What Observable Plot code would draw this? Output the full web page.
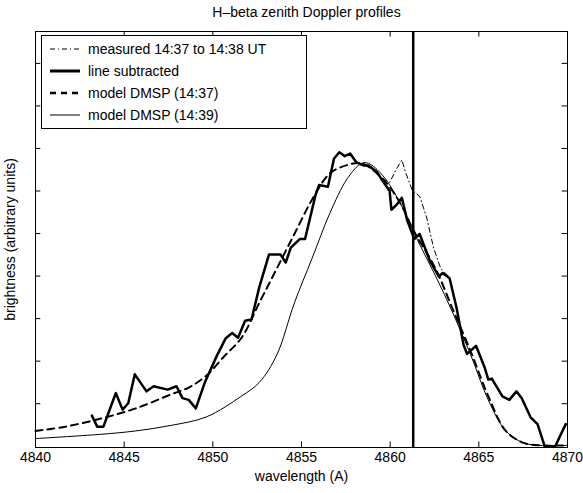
<!DOCTYPE html>
<html><head><meta charset="utf-8">
<script src="https://cdn.jsdelivr.net/npm/d3@7"></script>
<script src="https://cdn.jsdelivr.net/npm/@observablehq/plot@0.6"></script>
<style>
body{margin:0;background:#fff;font-family:"Liberation Sans",Arial,sans-serif;}
#wrap{position:relative;width:583px;height:493px;}
#title{height:22px;line-height:24px;text-align:center;font-size:14px;padding-left:30px;}
#legend{position:absolute;left:41px;top:35px;width:266px;height:94px;border:1px solid #000;background:#fff;font-size:14px;box-sizing:border-box;padding-top:2px;}
#legend div{height:22px;display:flex;align-items:center;}
#legend svg{margin:0 8px 0 8px;}
</style></head><body>
<div id="wrap"><div id="title">H–beta zenith Doppler profiles</div><div id="chart"></div>
<div id="legend"></div></div>
<script>
const subX=[4843.18,4843.48,4843.83,4844.53,4844.91,4845.23,4845.60,4846.26,4846.66,4847.45,4847.95,4848.29,4848.64,4849.04,4849.54,4850.23,4850.73,4851.09,4851.42,4851.82,4852.18,4852.62,4853.17,4853.81,4854.11,4854.40,4854.90,4855.20,4855.80,4855.99,4856.49,4856.83,4857.13,4857.44,4857.74,4858.08,4858.48,4858.78,4859.27,4859.57,4859.97,4860.07,4860.37,4860.66,4860.96,4861.36,4861.66,4862.25,4862.75,4862.95,4863.35,4863.74,4864.14,4864.34,4864.84,4865.33,4865.53,4865.73,4866.33,4866.72,4867.12,4867.42,4867.92,4868.31,4868.71,4869.31,4869.90];
const subY=[0.72,0.46,0.46,1.25,0.86,1.01,1.69,1.29,1.41,1.33,1.41,1.13,1.09,0.89,1.49,2.13,2.54,2.66,2.55,2.95,2.98,3.74,4.51,4.51,4.32,4.67,4.87,4.87,5.92,6.14,6.10,6.76,6.91,6.82,6.88,6.68,6.60,6.60,6.44,6.24,6.00,5.56,5.68,5.84,5.31,4.87,4.99,4.35,3.99,4.07,3.95,3.26,2.38,2.17,2.36,1.85,1.57,1.59,1.17,1.09,1.29,1.13,0.68,0.52,0,0,0.52];
const measX=[4859.57,4859.97,4860.37,4860.66,4860.86,4861.26,4861.66,4862.05,4862.45,4862.85,4863.35];
const measY=[6.29,6.20,6.53,6.73,6.45,6.00,5.88,5.39,4.66,4.18,3.97];
const m37X=[4840,4841.69,4843.68,4845.66,4847.65,4848.64,4849.64,4850.63,4851.62,4852.62,4853.61,4854.60,4855.60,4856.59,4857.58,4858.38,4859.57,4860.56,4861.32,4862.55,4863.55,4864.54,4865.53,4866.52,4867.52,4868.51,4870];
const m37Y=[0.36,0.46,0.65,0.89,1.22,1.38,1.66,2.11,2.55,3.37,4.18,4.99,5.80,6.41,6.61,6.65,6.29,5.72,5.07,4.18,3.20,2.23,1.18,0.36,0.08,0.02,0.02];
const m39X=[4840,4843.68,4845.66,4847.65,4849.64,4851.62,4852.62,4853.61,4854.60,4855.60,4856.59,4857.58,4858.38,4858.78,4859.57,4860.56,4861.56,4862.55,4863.55,4864.54,4865.53,4866.52,4867.52,4868.51,4870];
const m39Y=[0.18,0.28,0.36,0.49,0.69,1.18,1.50,2.15,3.37,4.42,5.47,6.29,6.65,6.65,6.37,5.72,4.83,4.01,3.12,2.15,1.09,0.36,0.08,0.02,0.02];
const markerX=[4861.3];
const xTicks=[4840,4845,4850,4855,4860,4865,4870];
const yTicks=[1,2,3,4,5,6,7,8,9];
const labels=["measured 14:37 to 14:38 UT","line subtracted","model DMSP (14:37)","model DMSP (14:39)"];

const pts=(xs,ys)=>xs.map((x,i)=>({x,y:ys[i]}));
const Y0=-0.03,Y1=9.75,X0=4840,X1=4870;
const chart=Plot.plot({
  width:583,height:471,marginLeft:35,marginRight:16,marginTop:9,marginBottom:46,
  x:{domain:[X0,X1]},y:{domain:[Y0,Y1]},
  style:{fontFamily:"Liberation Sans, Arial, sans-serif",fontSize:"14px",color:"#000",overflow:"visible"},
  marks:[
    Plot.axisX(xTicks,{tickSize:0,tickPadding:5,tickFormat:d3.format("d"),label:null,fontSize:14}),
    Plot.text(["wavelength (A)"],{frameAnchor:"bottom",dy:33,fontSize:14}),
    Plot.axisY({ticks:[],tickSize:0,label:"brightness (arbitrary units)",labelAnchor:"center",labelArrow:"none",labelOffset:30,fontSize:14}),
    Plot.ruleX(xTicks,{x:d=>d,y1:Y0,y2:Y0+0.13,stroke:"#000"}),
    Plot.ruleX(xTicks,{x:d=>d,y1:Y1,y2:Y1-0.13,stroke:"#000"}),
    Plot.ruleY(yTicks,{y:d=>d,x1:X0,x2:X0+0.3,stroke:"#000"}),
    Plot.ruleY(yTicks,{y:d=>d,x1:X1,x2:X1-0.3,stroke:"#000"}),
    Plot.line(pts(m39X,m39Y),{x:"x",y:"y",stroke:"#000",strokeWidth:1,curve:"catmull-rom"}),
    Plot.line(pts(m37X,m37Y),{x:"x",y:"y",stroke:"#000",strokeWidth:2,strokeDasharray:"7,5",curve:"catmull-rom"}),
    Plot.line(pts(measX,measY),{x:"x",y:"y",stroke:"#000",strokeWidth:1,strokeDasharray:"5,3,1,3"}),
    Plot.line(pts(subX,subY),{x:"x",y:"y",stroke:"#000",strokeWidth:2.5,strokeLinejoin:"round"}),
    Plot.ruleX(markerX,{x:d=>d,y1:Y0,y2:Y1,stroke:"#000",strokeWidth:2.5}),
    Plot.frame({stroke:"#000"})
  ]
});
document.getElementById("chart").append(chart);
const styles=[{w:1,d:"5,3,1,3"},{w:3,d:null},{w:2.5,d:"6,5"},{w:1,d:null}];
const lg=d3.select("#legend");
labels.forEach((t,i)=>{
  const row=lg.append("div");
  const s=row.append("svg").attr("width",30).attr("height",10);
  s.append("line").attr("x1",0).attr("x2",30).attr("y1",5).attr("y2",5).attr("stroke","#000")
   .attr("stroke-width",styles[i].w).attr("stroke-dasharray",styles[i].d);
  row.append("span").text(t);
});
</script></body></html>
